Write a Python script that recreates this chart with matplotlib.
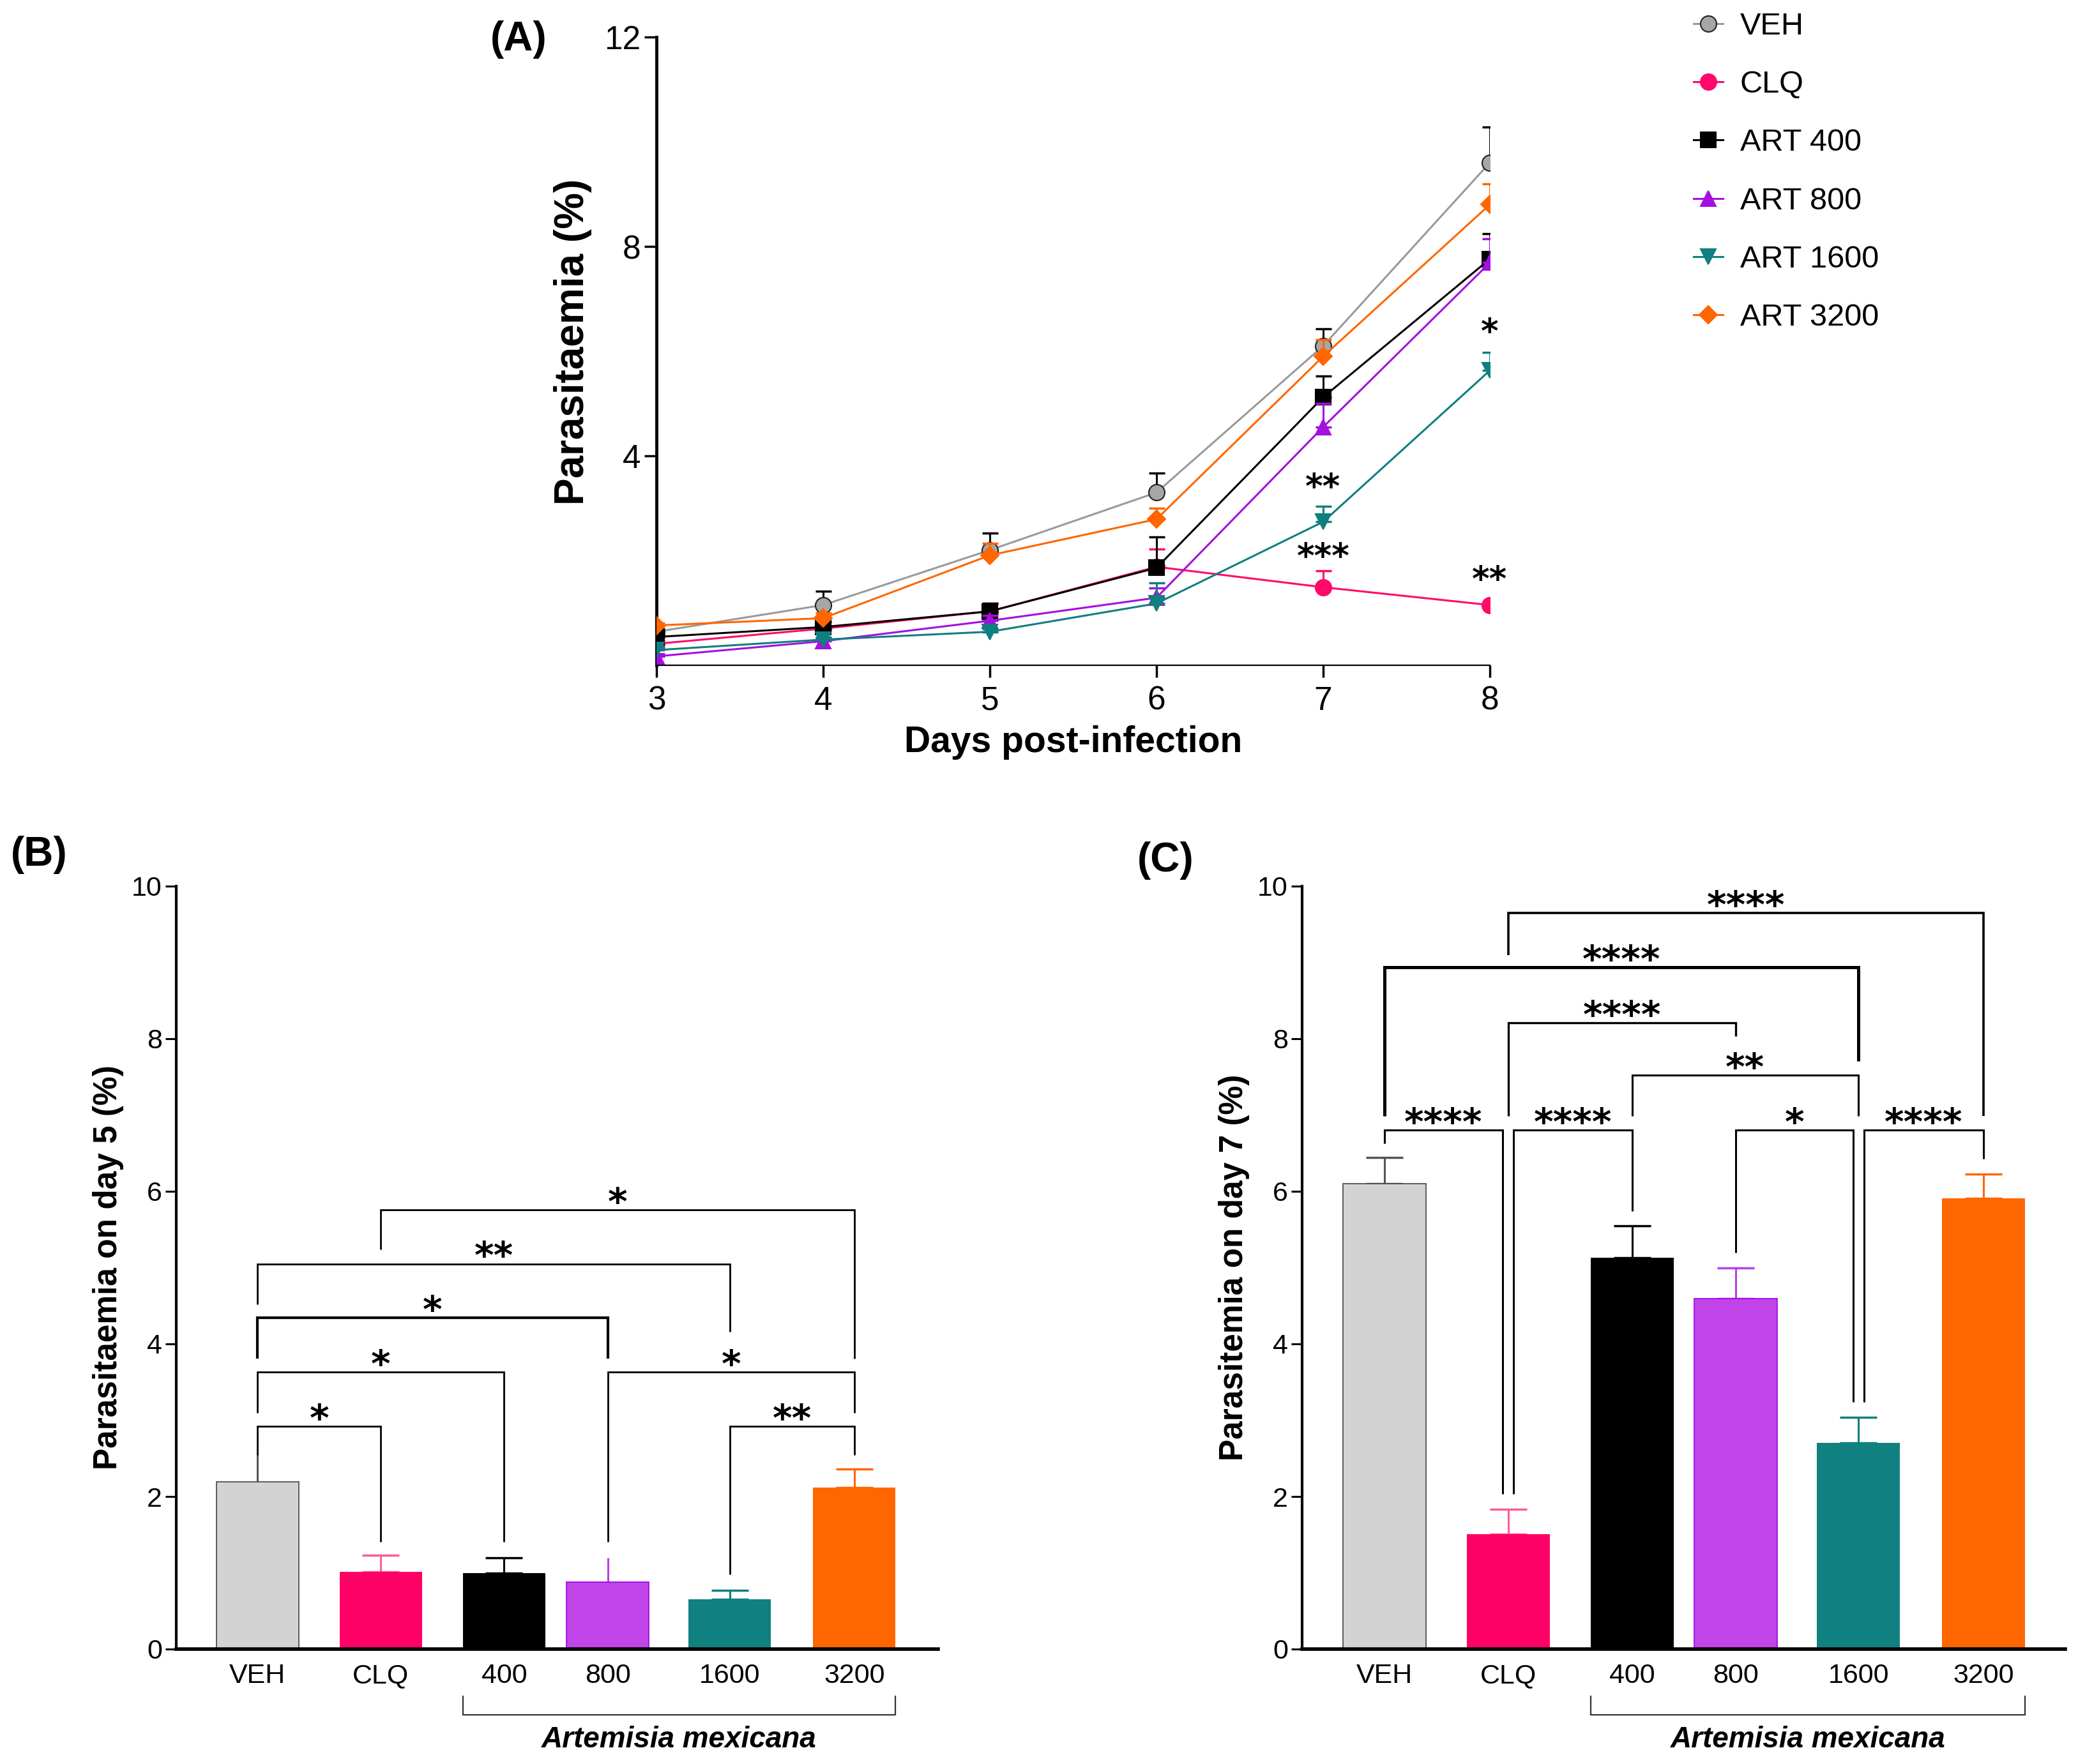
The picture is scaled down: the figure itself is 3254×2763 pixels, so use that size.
import numpy as np
import matplotlib.pyplot as plt
import matplotlib.transforms as mtransforms

plt.rcParams['font.family'] = ['Liberation Sans', 'DejaVu Sans']

# =========================
# DATA - panel A (parasitaemia per day)
# =========================
days = [3, 4, 5, 6, 7, 8]
series_names = ['VEH', 'CLQ', 'ART 400', 'ART 800', 'ART 1600', 'ART 3200']

veh_mean = [0.64, 1.15, 2.20, 3.30, 6.10, 9.60]
veh_err = [0.05, 0.27, 0.33, 0.37, 0.33, 0.68]
clq_mean = [0.41, 0.70, 1.03, 1.88, 1.49, 1.15]
clq_err = [0.05, 0.05, 0.15, 0.34, 0.31, 0.05]
art400_mean = [0.54, 0.73, 1.03, 1.86, 5.12, 7.76]
art400_err = [0.05, 0.10, 0.15, 0.59, 0.41, 0.49]
art800_mean = [0.17, 0.46, 0.85, 1.29, 4.55, 7.69]
art800_err = [0.05, 0.05, 0.10, 0.18, 0.45, 0.46]
art1600_mean = [0.29, 0.49, 0.64, 1.18, 2.74, 5.63]
art1600_err = [0.05, 0.05, 0.05, 0.39, 0.30, 0.34]
art3200_mean = [0.76, 0.90, 2.10, 2.79, 5.90, 8.80]
art3200_err = [0.05, 0.10, 0.23, 0.21, 0.32, 0.39]

# significance marks on panel A
a_star_day = [7, 7, 8, 8]
a_star_y = [3.43, 2.10, 6.40, 1.66]
a_star_txt = ['**', '***', '*', '**']

# =========================
# DATA - panels B and C (bars)
# =========================
groups = ['VEH', 'CLQ', '400', '800', '1600', '3200']

day5_mean = [2.19, 1.01, 1.00, 0.88, 0.65, 2.12]
day5_err = [0.36, 0.22, 0.20, 0.32, 0.12, 0.24]

day7_mean = [6.10, 1.51, 5.13, 4.59, 2.70, 5.91]
day7_err = [0.34, 0.32, 0.42, 0.41, 0.34, 0.32]

# brackets: (group i, group j), bar height, left leg end, right leg end, label
b_pairs = [(0, 1), (0, 2), (0, 3), (0, 4), (1, 5), (3, 5), (4, 5)]
b_height = [2.92, 3.63, 4.34, 5.05, 5.76, 3.63, 2.92]
b_left_end = [2.54, 3.10, 3.81, 4.52, 5.24, 1.41, 0.98]
b_right_end = [1.41, 1.41, 3.81, 4.16, 3.81, 3.10, 2.54]
b_label = ['*', '*', '*', '**', '*', '*', '**']

c_pairs = [(0, 1), (1, 2), (3, 4), (4, 5), (2, 4), (1, 3), (0, 4), (1, 5)]
c_height = [6.80, 6.80, 6.80, 6.80, 7.52, 8.21, 8.94, 9.65]
c_left_end = [6.63, 2.03, 5.20, 3.24, 6.99, 6.99, 6.99, 9.10]
c_right_end = [2.03, 5.74, 3.24, 6.43, 6.99, 8.03, 7.71, 6.99]
c_label = ['****', '****', '*', '****', '**', '****', '****', '****']

# =========================
# STYLE
# =========================
line_colors = ['#9a9a9a', '#ff0a6a', '#000000', '#a50fe0', '#0f7f7f', '#ff6600']
line_markers = ['o', 'o', 's', '^', 'v', 'D']
marker_sizes = [18, 18, 17, 17, 17, 14]
err_colors_a = ['#000000', '#ff0a6a', '#000000', '#a50fe0', '#0f7f7f', '#ff6600']

bar_colors = ['#d3d3d3', '#ff0066', '#000000', '#c044e8', '#108080', '#ff6600']
bar_edges = ['#444444', '#ff0066', '#000000', '#a000e0', '#108080', '#ff6600']
bar_err_colors = ['#555555', '#ff5c96', '#000000', '#b640ea', '#108080', '#ff6600']
bar_pos = [0, 1, 2, 2.84, 3.83, 4.84]
bar_width = 0.67

W, H = 3255, 2763
fig = plt.figure(figsize=(W / 100, H / 100), dpi=100)


def rect(left, top, right, bottom):
    return [left / W, 1 - bottom / H, (right - left) / W, (bottom - top) / H]


# =========================
# PANEL A
# =========================
axA = fig.add_axes(rect(1028, 58, 2333, 1042))
means = [veh_mean, clq_mean, art400_mean, art800_mean, art1600_mean, art3200_mean]
errs = [veh_err, clq_err, art400_err, art800_err, art1600_err, art3200_err]

for k in range(len(series_names)):
    axA.errorbar(days, means[k], yerr=[np.zeros(len(days)), errs[k]], fmt='none',
                 ecolor=err_colors_a[k], elinewidth=2.2, capsize=9, capthick=2.5, zorder=2 + k)
    mec = '#222222' if k == 0 else line_colors[k]
    mfc = '#a6a6a6' if k == 0 else line_colors[k]
    axA.plot(days, means[k], color=line_colors[k], lw=2.2, marker=line_markers[k],
             markersize=marker_sizes[k], mfc=mfc, mec=mec, mew=1.5,
             label=series_names[k], zorder=3 + k)

for d, y, t in zip(a_star_day, a_star_y, a_star_txt):
    axA.annotate(t, xy=(d, y), xytext=(0, -14), textcoords='offset points',
                 ha='center', va='baseline', fontsize=38, fontweight='bold',
                 family='DejaVu Sans', zorder=20)

axA.set_xlim(3, 8)
axA.set_ylim(0, 12)
axA.set_xticks(days)
axA.set_yticks([4, 8, 12])
axA.spines['top'].set_visible(False)
axA.spines['right'].set_visible(False)
axA.spines['left'].set_linewidth(3.5)
axA.spines['bottom'].set_linewidth(1.6)
axA.tick_params(axis='both', labelsize=37, width=2.5, length=14)
axA.tick_params(axis='y', pad=4)
axA.tick_params(axis='x', pad=9)
axA.set_ylabel('Parasitaemia (%)', fontsize=46, fontweight='bold')
axA.yaxis.set_label_coords(-0.1004, 0.515)
axA.yaxis.label.set_va('center')
axA.set_xlabel('Days post-infection', fontsize=41, fontweight='bold')
axA.xaxis.set_label_coords(0.50, -0.123)
axA.xaxis.label.set_va('center')

fig.legend(loc='upper left', bbox_to_anchor=(2652 / W, 1 - 19 / H),
           bbox_transform=fig.transFigure, frameon=False, fontsize=35,
           borderpad=0, borderaxespad=0, handlelength=0.95, handletextpad=0.55,
           labelspacing=0.95)

fig.text(768 / W, 1 - 62 / H, '(A)', fontsize=46, fontweight='bold', ha='left', va='center')


# =========================
# PANELS B, C
# =========================
def bar_panel(ax, vals, errv, pairs, heights, lends, rends, labels, ylabel, xlim,
              offsets, thick, caps):
    for i in range(len(groups)):
        ax.bar(bar_pos[i], vals[i], width=bar_width, color=bar_colors[i],
               edgecolor=bar_edges[i], linewidth=1.2 if i in (0, 3) else 0, zorder=2)
        ax.errorbar(bar_pos[i], vals[i], yerr=[[0], [errv[i]]], fmt='none',
                    ecolor=bar_err_colors[i], elinewidth=2.2, capsize=caps[i], capthick=2.5,
                    zorder=1)

    for n, (i, j) in enumerate(pairs):
        x1 = bar_pos[i] + offsets[n][0]
        x2 = bar_pos[j] + offsets[n][1]
        h = heights[n]
        ax.plot([x1, x1, x2, x2], [lends[n], h, h, rends[n]], color='black', lw=thick[n],
                solid_joinstyle='miter', solid_capstyle='butt', clip_on=False, zorder=5)
        ax.annotate(labels[n], xy=((x1 + x2) / 2, h), xytext=(0, -5), textcoords='offset points',
                    ha='center', va='baseline', fontsize=42, fontweight='bold',
                    family='DejaVu Sans', zorder=6)

    ax.set_xlim(*xlim)
    ax.set_ylim(0, 10)
    ax.set_yticks(range(0, 11, 2))
    ax.set_xticks(bar_pos, groups)
    ax.spines['top'].set_visible(False)
    ax.spines['right'].set_visible(False)
    ax.spines['left'].set_linewidth(3)
    ax.spines['bottom'].set_linewidth(4)
    ax.tick_params(axis='y', labelsize=31, width=2.2, length=12, pad=4)
    ax.tick_params(axis='x', labelsize=31, length=0, pad=16)
    ax.set_ylabel(ylabel, fontsize=37, fontweight='bold')
    ax.yaxis.set_label_coords(-0.089, 0.5)
    ax.yaxis.label.set_va('center')

    # Artemisia mexicana group bracket under the extract doses
    tr = mtransforms.blended_transform_factory(ax.transData, ax.transAxes)
    x0 = bar_pos[2] - bar_width / 2
    x1 = bar_pos[5] + bar_width / 2
    ax.plot([x0, x0, x1, x1], [-0.062, -0.086, -0.086, -0.062], color='#333333', lw=1.6,
            transform=tr, clip_on=False)
    ax.text((x0 + x1) / 2, -0.119, 'Artemisia mexicana', transform=tr, ha='center', va='center',
            fontsize=33, fontweight='bold', style='italic')


axB = fig.add_axes(rect(276, 1388, 1469, 2583))
b_offsets = [(0, 0)] * len(b_pairs)
b_thick = [2.0, 2.0, 3.0, 2.0, 2.0, 2.0, 2.0]
b_caps = [0, 21, 21, 0, 21, 21]
bar_panel(axB, day5_mean, day5_err, b_pairs, b_height, b_left_end, b_right_end, b_label,
          'Parasitaemia on day 5 (%)', (-0.66, 5.52), b_offsets, b_thick, b_caps)

axC = fig.add_axes(rect(2039, 1388, 3234, 2583))
c_offsets = [(0, -0.045), (0.045, 0), (0, -0.045), (0.045, 0), (0, 0), (0, 0), (0, 0), (0, 0)]
c_thick = [2.2, 2.2, 2.2, 2.2, 2.2, 2.4, 3.6, 2.6]
c_caps = [21, 21, 21, 21, 21, 21]
bar_panel(axC, day7_mean, day7_err, c_pairs, c_height, c_left_end, c_right_end, c_label,
          'Parasitemia on day 7 (%)', (-0.665, 5.5), c_offsets, c_thick, c_caps)

fig.text(17 / W, 1 - 1339 / H, '(B)', fontsize=46, fontweight='bold', ha='left', va='center')
fig.text(1781 / W, 1 - 1348 / H, '(C)', fontsize=46, fontweight='bold', ha='left', va='center')

fig.savefig('out.png', dpi=100)
